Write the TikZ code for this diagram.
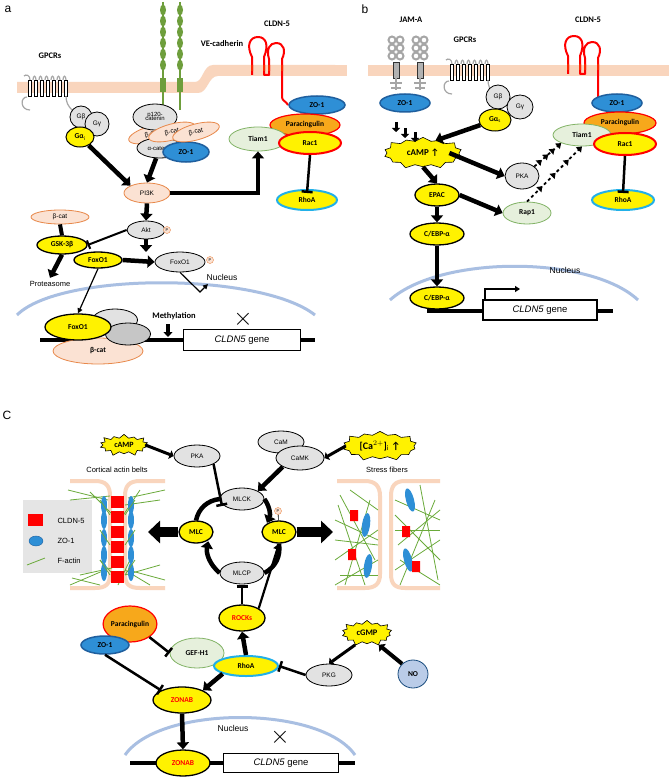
\documentclass[tikz,border=0pt]{standalone}
\usepackage{fontspec}
\setmainfont{Carlito}
\setsansfont{Liberation Sans}
\usetikzlibrary{shapes.geometric,shapes.symbols,arrows.meta,decorations.markings}
\definecolor{Yel}{HTML}{FFF200}
\definecolor{Gry}{HTML}{E2E2E2}
\definecolor{Pch}{HTML}{FBE2D3}
\definecolor{PchD}{HTML}{E8884A}
\definecolor{Grn}{HTML}{E6F0DC}
\definecolor{GrnD}{HTML}{82B366}
\definecolor{ZoB}{HTML}{2E8FD6}
\definecolor{ZoD}{HTML}{1F5F9E}
\definecolor{Org}{HTML}{F7A81B}
\definecolor{Cyn}{HTML}{22B0E8}
\definecolor{Mem}{HTML}{F9D5BD}
\definecolor{NucB}{HTML}{A9BFE2}
\definecolor{Fib}{HTML}{6AAA3A}
\definecolor{VEg}{HTML}{6E9E3C}
\tikzset{
 base/.style={ellipse, draw, line width=0.8pt, inner sep=0pt, font=\fontsize{7.5}{8}\selectfont\bfseries},
 sz/.style 2 args={minimum width=#1pt, minimum height=#2pt},
 yel/.style={base, fill=Yel, line width=1.3pt},
 gry/.style={base, fill=Gry, font=\sffamily\fontsize{6.5}{7}\selectfont},
 pch/.style={base, fill=Pch, draw=PchD, font=\sffamily\fontsize{6.5}{7}\selectfont},
 grn/.style={base, fill=Grn, draw=GrnD},
 zo/.style={base, fill=ZoB, draw=ZoD, line width=1.5pt},
 par/.style={base, fill=Org, draw=red, line width=1.2pt},
 rac/.style={base, fill=Yel, draw=red, line width=2pt},
 rho/.style={base, fill=Yel, draw=Cyn, line width=2pt},
 pcirc/.style={circle, draw=PchD, fill=Pch, inner sep=0pt, minimum size=7pt, font=\sffamily\fontsize{4}{4}\selectfont},
 burst/.style={starburst, starburst points=14, starburst point height=5pt, fill=Yel, draw, line width=0.6pt, inner sep=1pt, font=\fontsize{9}{10}\selectfont\bfseries},
 fat/.style={line width=4.5pt, -{Triangle[length=7pt,width=12pt]}},
 fatc/.style={line width=4.5pt, -{Triangle[length=7pt,width=12pt]}, shorten >=1pt},
 huge/.style={line width=10pt, -{Triangle[length=12pt,width=22pt]}},
 inh/.style={line width=2.5pt, -{Bar[width=11pt,line width=2.5pt]}},
 thinarr/.style={line width=1.2pt, -{Triangle[length=5pt,width=5pt]}},
 dotarr/.style={line width=1.8pt, dash pattern=on 3pt off 3pt, postaction={decorate}, decoration={markings,
   mark=at position 0.28 with {\arrow{Triangle[length=5pt,width=7pt]}},
   mark=at position 0.52 with {\arrow{Triangle[length=5pt,width=7pt]}},
   mark=at position 0.76 with {\arrow{Triangle[length=5pt,width=7pt]}},
   mark=at position 1 with {\arrow{Triangle[length=5pt,width=7pt]}}}},
 lbl/.style={font=\fontsize{8.5}{9}\selectfont\bfseries},
 lblt/.style={font=\sffamily\fontsize{7.5}{8}\selectfont},
 nuc/.style={draw=NucB, line width=3pt},
 dna/.style={line width=4pt},
 gene/.style={draw, fill=white, line width=1.2pt, font=\sffamily\fontsize{9.5}{10}\selectfont, inner sep=0pt}
}
\newcommand{\mygpcr}[2]{%
 \begin{scope}[shift={(#1,#2)}]
  \draw[gray!70, line width=1.2pt] (-3,9) .. controls (-10,9) and (-10,22) .. (0,22)
   \foreach \i in {0,1,2,3,4,5} { (\i*6+3,-8) .. controls (\i*6+3,-13) and (\i*6+6,-13) .. (\i*6+6,-8) };
  \draw[gray!70, line width=1.2pt] (0,-8) .. controls (0,-13) and (-4,-14) .. (-6,-12);
  \foreach \i in {0,...,6} \draw[fill=white, line width=0.7pt] (\i*6-1.3,-8) rectangle (\i*6+1.3,8);
  \draw[gray!70, line width=1.2pt] (36,8) .. controls (36,14) and (38,18) .. (42,22) .. controls (45,25) and (48,28) .. (50,32);
 \end{scope}}
\newcommand{\myjam}[2]{%
 \begin{scope}[shift={(#1,#2)}]
  \foreach \yy in {-20,-12,-4} {\draw[gray!70, line width=2pt] (-4,\yy) circle (3.5pt); \draw[gray!70, line width=2pt] (4,\yy) circle (3.5pt);}
  \fill[gray!60] (-3,2) rectangle (3,18); \draw[gray!40!black, line width=0.4pt] (-3,2) rectangle (3,18);
  \draw[gray!70, line width=2pt] (0,18) -- (0,30) (-6,23) -- (6,23) (-5,28) -- (5,28);
 \end{scope}}
\newcommand{\mycldn}[2]{%
 \begin{scope}[shift={(#1,#2)}]
  \draw[red, line width=2pt, line join=round] (0,30) -- (0,12) .. controls (-6,0) and (-2,-8) .. (6,-8) .. controls (14,-8) and (17,0) .. (12,12) -- (12,30) -- (17,30) -- (17,14) .. controls (14,4) and (18,-2) .. (24,-2) .. controls (32,-2) and (34,6) .. (30,14) -- (30,52) .. controls (30,56) and (34,56) .. (36,60);
  \fill[red!70!orange] (-1,20) rectangle (1,26) (11,20) rectangle (13,26) (16,20) rectangle (18,26) (29,20) rectangle (31,26);
 \end{scope}}
\begin{document}
\begin{tikzpicture}[x=1pt,y=-1pt]
\useasboundingbox (0,0) rectangle (669,778);
\fill[white] (0,0) rectangle (669,778);
% ================= PANEL A =================
\node[font=\sffamily\fontsize{12}{12}\selectfont] (la) at (8,9) {a};
\fill[Mem] (17,82) -- (195,82) .. controls (203,82) and (203,65) .. (213,65) -- (335,65) -- (335,76) -- (218,76) .. controls (208,76) and (208,93) .. (198,93) -- (17,93) -- cycle;
\node[lbl] (ga) at (50,56) {GPCRs};
\mygpcr{30}{88}
% VE-cadherin
\foreach \xx in {163,180} {
  \draw[VEg, line width=1.6pt] (\xx,2) -- (\xx,110);
  \foreach \yy in {10,21,32,43,54,65} \fill[VEg] (\xx,\yy) ellipse (3pt and 5.5pt);
  \fill[VEg] (\xx-3,78) rectangle (\xx+3,92);
}
\node[lbl] (vec) at (222,44) {VE-cadherin};
\node[lbl] (cla) at (277,24) {CLDN-5};
\mycldn{252}{45}
\node[gry, sz={22}{22}] (gb) at (81,117) {Gβ};
\node[gry, sz={24}{24}] (gg) at (97,124) {Gγ};
\node[yel, sz={28}{20}, line width=1pt] (gai) at (80,137) {Gα$_{\mathrm i}$};
\node[pch, sz={48}{16}, rotate=15] (bc1) at (152,134) {β-cat};
\node[gry, sz={44}{26}, font=\sffamily\fontsize{6}{6.5}\selectfont] (p120) at (155,117) {\begin{tabular}{@{}c@{}}p120-\\[-2pt]catenin\end{tabular}};
\node[gry, sz={46}{20}, font=\sffamily\fontsize{6}{7}\selectfont] (acat) at (160,148) {α-catenin};
\node[zo, sz={46}{20}] (zoa) at (186,152) {ZO-1};
\node[pch, sz={48}{16}, rotate=15] (bc2) at (172,132) {β-cat};
\node[pch, sz={48}{16}, rotate=15] (bc3) at (196,132) {β-cat};
\node[zo, sz={56}{18}] (zoa2) at (317,105) {ZO-1};
\node[par, sz={70}{22}] (para) at (305,125) {Paracingulin};
\node[grn, sz={58}{24}] (tia) at (258,139) {Tiam1};
\node[rac, sz={62}{22}] (raca) at (310,143) {Rac1};
\node[rho, sz={60}{20}] (rhoa) at (307,200) {RhoA};
\node[pch, sz={46}{20}] (pi3k) at (147,193) {PI3K};
\node[gry, sz={38}{18}] (akt) at (146,230) {Akt};
\node[pcirc] (pakt) at (167,230) {P};
\node[pch, sz={58}{14}] (bca) at (60,217) {β-cat};
\node[yel, sz={50}{18}] (gsk) at (62,245) {GSK-3β};
\node[font=\sffamily\fontsize{7.5}{8}\selectfont] (prot) at (50,284) {Proteasome};
\node[yel, sz={48}{16}] (fox) at (98,260) {FoxO1};
\node[gry, sz={50}{20}] (foxg) at (180,262) {FoxO1};
\node[pcirc] (pfox) at (210,260) {P};
\node[lblt, font=\sffamily\fontsize{8.5}{9}\selectfont] (nuca) at (222,277) {Nucleus};
\draw[nuc] (17,315) .. controls (60,272) and (260,272) .. (315,315);
\draw[dna] (40,340) -- (315,340);
\node[gene, sz={117}{21}, rectangle] (genea) at (242,340) {\textit{CLDN5} gene};
\node[font=\fontsize{24}{24}\selectfont] (xa) at (243,319) {$\times$};
\node[lbl] (meth) at (174,316) {Methylation};
\coordinate (mt) at (168,337);
\draw[line width=4pt, -{Triangle[length=5pt,width=9pt]}] (168,324) -- (mt);
\node[pch, sz={90}{26}, font=\fontsize{7.5}{8}\selectfont\bfseries] (bcn) at (98,351) {β-cat};
\node[gry, sz={45}{22}] (gn1) at (115,320) {};
\node[gry, sz={45}{22}, fill=gray!45] (gn2) at (128,334) {};
\node[yel, sz={66}{26}] (foxn) at (78,327) {FoxO1};
% arrows a
\draw[fat] (gai) -- (pi3k.north west);
\draw[fat] (acat) -- (pi3k.north);
\draw[fat] (pi3k.east) -| (tia.south);
\draw[inh] (raca.south) -- ([yshift=-4pt]rhoa.north);
\draw[fat] (pi3k.south) -- (akt.north);
\draw[line width=2pt, -{Bar[width=9pt,line width=2pt]}] (akt.west) -- (gsk.east);
\draw[line width=4pt] (bca.south) -- (gsk.north);
\draw[fat] (gsk.south) -- (prot.north);
\coordinate (akd) at (146,252);
\draw[fat] (akt.south) -- (akd);
\draw[fat] (fox.east) -- (foxg.west);
\draw[thinarr] (fox.south) -- (foxn.north);
\coordinate (fn1) at (200,292);
\coordinate (fn2) at (208,284);
\draw[thinarr] (foxg.south) -- (fn1) -- (fn2);
% ================= PANEL B =================
\node[font=\sffamily\fontsize{12}{12}\selectfont] (lb) at (365,9) {b};
\fill[Mem] (335,65) rectangle (347,76);
\fill[Mem] (368,65) rectangle (669,76);
\node[lbl] (jam) at (411,20) {JAM-A};
\node[lbl] (gb2) at (465,40) {GPCRs};
\node[lbl] (clb) at (588,20) {CLDN-5};
\myjam{396}{60}
\myjam{420}{60}
\mygpcr{452}{72}
\mycldn{568}{44}
\node[zo, sz={50}{18}] (zob) at (405,103) {ZO-1};
\node[gry, sz={24}{24}] (gbb) at (498,97) {Gβ};
\node[gry, sz={26}{24}] (ggb) at (520,107) {Gγ};
\node[yel, sz={32}{22}, line width=1pt] (gas) at (495,120) {Gα$_{\mathrm s}$};
\node[burst, minimum width=82pt, minimum height=34pt] (camp) at (423,153) {cAMP ↑};
\node[yel, sz={44}{22}] (epac) at (437,195) {EPAC};
\node[yel, sz={54}{22}] (ceb) at (437,234) {C/EBP-α};
\node[gry, sz={34}{26}] (pkab) at (522,176) {PKA};
\node[grn, sz={48}{22}] (rap) at (527,213) {Rap1};
\node[zo, sz={50}{18}] (zob2) at (617,103) {ZO-1};
\node[par, sz={72}{22}] (parb) at (620,123) {Paracingulin};
\node[grn, sz={58}{22}] (tib) at (582,135) {Tiam1};
\node[rac, sz={62}{22}] (racb) at (625,144) {Rac1};
\node[rho, sz={62}{20}] (rhob) at (623,200) {RhoA};
\draw[nuc] (390,300) .. controls (440,255) and (590,255) .. (638,300);
\node[lblt, font=\sffamily\fontsize{8.5}{9}\selectfont] (nucb) at (565,270) {Nucleus};
\draw[dna] (427,311) -- (613,311);
\node[gene, sz={114}{20}, rectangle] (geneb) at (540,310) {\textit{CLDN5} gene};
\node[yel, sz={54}{22}] (ceb2) at (437,298) {C/EBP-α};
\coordinate (pr1) at (485,300);
\coordinate (pr2) at (520,289);
\draw[line width=1.3pt, -{Triangle[length=5pt,width=6pt]}] (pr1) |- (pr2);
% arrows b
\foreach \xx/\ya in {396/122,405/128,415/132} \draw[line width=3pt, -{Triangle[length=4pt,width=8pt]}] (\xx,\ya) -- (\xx,\ya+10);
\draw[fat] (gas) -- (camp.north east);
\draw[fat] (camp.south) -- (epac.north);
\draw[fat] ([xshift=-10pt]camp.east) -- (pkab.west);
\draw[fat] (epac.east) -- (rap.west);
\draw[fat] (epac.south) -- (ceb.north);
\draw[fat] (ceb.south) -- (ceb2.north);
\draw[dotarr] (pkab.north east) -- (tib.south west);
\draw[dotarr] (rap.north) -- (tib.south);
\draw[inh] (racb.south) -- ([yshift=-4pt]rhob.north);
% ================= PANEL C =================
\node[font=\sffamily\fontsize{12}{12}\selectfont] (lc) at (7,415) {C};
\node[burst, minimum width=52pt, minimum height=24pt, font=\fontsize{8}{9}\selectfont\bfseries] (campc) at (124,445) {cAMP};
\node[gry, sz={46}{22}] (pkac) at (197,456) {PKA};
\node[gry, sz={46}{22}] (cam) at (281,442) {CaM};
\node[gry, sz={48}{24}] (camk) at (300,458) {CaMK};
\node[burst, minimum width=78pt, minimum height=32pt, font=\fontsize{10}{11}\selectfont\bfseries] (ca) at (380,446) {[Ca$^{2+}$]$_{\mathrm i}$ ↑};
\node[lblt] (cab) at (117,470) {Cortical actin belts};
\node[lblt] (sfb) at (387,470) {Stress fibers};
\node[gry, sz={44}{22}] (mlck) at (242,499) {MLCK};
\node[yel, sz={34}{22}] (mlcl) at (196,532) {MLC};
\node[yel, sz={34}{22}] (mlcr) at (279,532) {MLC};
\node[pcirc] (pm) at (278,511) {P};
\draw[line width=0.6pt] (pm) -- (mlcr);
\node[gry, sz={44}{22}] (mlcp) at (242,573) {MLCP};
% cortical belts picture
\fill[Gry!90] (23,500) rectangle (92,573);
\fill[red] (28,514) rectangle (43,526);
\node[lblt, anchor=west] (lg1) at (54,521) {CLDN-5};
\fill[ZoB] (36,541) ellipse (7pt and 5pt); \draw[ZoD] (36,541) ellipse (7pt and 5pt);
\node[lblt, anchor=west] (lg2) at (54,541) {ZO-1};
\draw[Fib, line width=0.8pt] (27,565) -- (45,558);
\node[lblt, anchor=west] (lg3) at (54,561) {F-actin};
\draw[Mem, line width=4pt] (70,481) -- (95,481) .. controls (106,481) and (110,486) .. (110,496) -- (110,574) .. controls (110,584) and (106,588) .. (95,588) -- (70,588);
\draw[Mem, line width=4pt] (165,481) -- (140,481) .. controls (129,481) and (125,486) .. (125,496) -- (125,574) .. controls (125,584) and (129,588) .. (140,588) -- (165,588);
\foreach \xa/\ya/\xb/\yb in {68/490/108/500, 70/500/110/496, 80/575/112/568, 70/585/105/570, 90/492/118/520, 128/498/165/490, 125/505/160/500, 128/570/165/580, 125/575/160/565, 140/490/120/520, 100/560/120/582, 130/560/118/585, 72/578/100/585, 150/585/125/570}
  \draw[Fib, line width=0.8pt] (\xa,\ya) -- (\xb,\yb);
\foreach \yy in {505,520,538,555,572} {\fill[ZoB] (104,\yy) ellipse (3pt and 9pt); \fill[ZoB] (131,\yy) ellipse (3pt and 9pt);}
\foreach \yy in {496,511,526,541,556,571} {\fill[red] (111,\yy) rectangle (124,\yy+12);}
\foreach \yy in {500,530,560} {\draw[Fib, line width=0.8pt] (100,\yy) -- (110,\yy+15); \draw[Fib, line width=0.8pt] (135,\yy) -- (125,\yy+15);}
% stress fibers picture
\draw[Mem, line width=4pt] (337,481) -- (365,481) .. controls (375,481) and (380,486) .. (380,496) -- (380,574) .. controls (380,584) and (375,588) .. (365,588) -- (337,588);
\draw[Mem, line width=4pt] (440,481) -- (405,481) .. controls (395,481) and (391,486) .. (391,496) -- (391,574) .. controls (391,584) and (395,588) .. (405,588) -- (440,588);
\foreach \xa/\ya/\xb/\yb in {335/520/378/540, 340/495/375/560, 335/560/378/530, 345/585/370/500, 335/540/378/545, 340/575/378/575, 350/490/378/510, 338/505/365/585, 335/585/378/560,
  395/500/440/520, 395/530/440/530, 395/570/440/540, 400/585/435/500, 395/515/440/560, 420/485/438/580, 398/545/440/510, 400/560/440/585}
  \draw[Fib, line width=0.8pt] (\xa,\ya) -- (\xb,\yb);
\fill[ZoB] (366,525) ellipse[x radius=4pt, y radius=12pt, rotate=-8];
\fill[ZoB] (368,566) ellipse[x radius=4pt, y radius=12pt, rotate=-8];
\fill[ZoB] (410,500) ellipse[x radius=4pt, y radius=12pt, rotate=15];
\fill[ZoB] (408,560) ellipse[x radius=4pt, y radius=12pt, rotate=15];
\fill[red] (350,510) rectangle (358,521) (348,549) rectangle (356,560) (402,526) rectangle (410,537) (412,561) rectangle (420,572);
% lower part C
\node[yel, sz={46}{26}, text=red] (rocks) at (242,618) {ROCKs};
\node[par, sz={52}{36}, text=black] (parc) at (130,624) {Paracingulin};
\node[zo, sz={48}{18}] (zoc) at (105,645) {ZO-1};
\node[grn, sz={54}{30}] (gef) at (197,653) {GEF-H1};
\node[rho, sz={64}{20}] (rhoc) at (246,666) {RhoA};
\node[burst, minimum width=54pt, minimum height=28pt, font=\fontsize{8.5}{9}\selectfont\bfseries] (cgmp) at (367,633) {cGMP};
\node[gry, sz={46}{22}] (pkg) at (329,675) {PKG};
\node[base, fill=NucB!80, draw=ZoD!80!black, sz={30}{28}] (no) at (413,674) {NO};
\node[yel, sz={58}{26}, text=red] (zon) at (182,700) {ZONAB};
\draw[nuc] (125,755) .. controls (160,705) and (320,705) .. (355,755);
\node[lblt, font=\sffamily\fontsize{8.5}{9}\selectfont] (nucc) at (233,728) {Nucleus};
\node[font=\fontsize{24}{24}\selectfont] (xc) at (280,737) {$\times$};
\draw[dna] (130,763) -- (355,763);
\node[gene, sz={115}{19}, rectangle] (genec) at (281,763) {\textit{CLDN5} gene};
\node[yel, sz={54}{26}, text=red] (zon2) at (183,763) {ZONAB};
% arrows c
\draw[line width=3pt, -{Triangle[length=4pt,width=9pt]}] (campc.east) -- (pkac.west);
\draw[inh] (pkac.south east) -- (222,506);
\draw[fat] (camk.south west) -- (mlck.north east);
\draw[line width=3pt, -{Triangle[length=4pt,width=9pt]}] (ca.west) -- (camk.east);
\draw[line width=4.5pt] (mlcl.north) to[bend left=35] (mlck.west);
\draw[fatc] (mlck.east) to[bend left=30] (mlcr.north west);
\draw[line width=4.5pt] (mlcr.south) to[bend left=35] (mlcp.east);
\draw[fatc] (mlcp.west) to[bend left=30] (mlcl.south east);
\draw[huge] (mlcl.west) -- (148,532);
\draw[huge] (mlcr.east) -- (333,532);
\draw[inh] (rocks.north) -- ([yshift=-1pt]mlcp.south);
\draw[line width=2.2pt, -{Triangle[length=6pt,width=8pt]}] (rocks.north east) -- (mlcr.south);
\draw[fat] (rhoc.north) -- (rocks.south);
\draw[inh] (parc.south east) -- (gef.west);
\draw[inh] (zoc.south) -- (zon.north west);
\draw[fat] (rhoc.south west) -- (zon.north east);
\draw[inh] (pkg.west) -- (rhoc.east);
\draw[line width=3pt, -{Triangle[length=4pt,width=9pt]}] (cgmp.south west) -- (pkg.north);
\draw[line width=4pt, -{Triangle[length=5pt,width=10pt]}] (no.north west) -- (cgmp.south east);
\draw[fat] (zon.south) -- (zon2.north);
\end{tikzpicture}
\end{document}
